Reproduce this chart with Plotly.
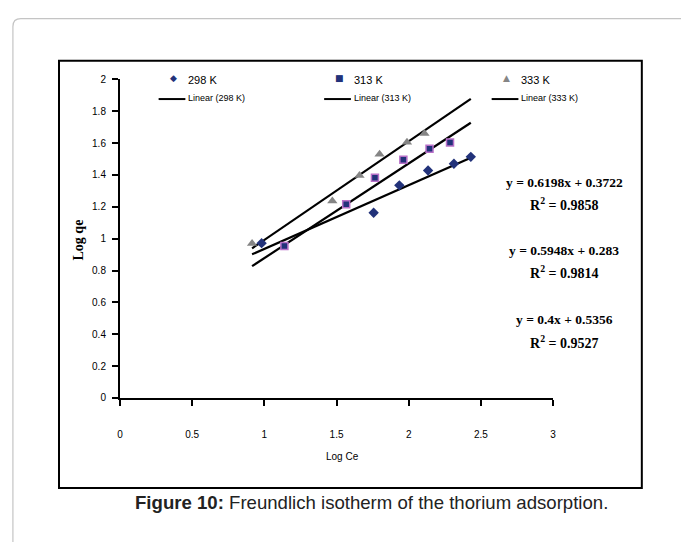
import plotly.graph_objects as go
import numpy as np

W, H = 681, 543

# ---- data ----
series_names = ["298 K", "313 K", "333 K"]
x_298 = [0.981, 1.757, 1.935, 2.134, 2.313, 2.430]
y_298 = [0.972, 1.163, 1.335, 1.428, 1.471, 1.514]
x_313 = [1.139, 1.567, 1.766, 1.963, 2.144, 2.286]
y_313 = [0.954, 1.216, 1.383, 1.495, 1.565, 1.604]
x_333 = [0.915, 1.471, 1.659, 1.798, 1.988, 2.109]
y_333 = [0.970, 1.237, 1.397, 1.530, 1.606, 1.661]

slopes = [0.4, 0.5948, 0.6198]
intercepts = [0.5356, 0.283, 0.3722]
fit_x_range = [0.915, 2.43]
equations = ["y = 0.6198x + 0.3722", "y = 0.5948x + 0.283", "y = 0.4x + 0.5356"]
r2_values = ["0.9858", "0.9814", "0.9527"]

x_ticks = [0, 0.5, 1, 1.5, 2, 2.5, 3]
y_ticks = [0, 0.2, 0.4, 0.6, 0.8, 1, 1.2, 1.4, 1.6, 1.8, 2]

# ---- layout geometry (pixels) ----
ax_l, ax_r = 118, 555
ax_t, ax_b = 76, 401

def px(x):
    return x / W

def py(y):
    return 1 - y / H

fig = go.Figure()

# fit lines
for s, b in zip(slopes, intercepts):
    xs = np.array(fit_x_range)
    fig.add_trace(go.Scatter(x=xs, y=s * xs + b, mode="lines",
                             line=dict(color="black", width=2.2),
                             showlegend=False, hoverinfo="skip"))

fig.add_trace(go.Scatter(x=x_298, y=y_298, mode="markers", name="298 K",
                         marker=dict(symbol="diamond", size=8, color="#22327a"),
                         showlegend=False))
fig.add_trace(go.Scatter(x=x_313, y=y_313, mode="markers", name="313 K",
                         marker=dict(symbol="square", size=7, color="#22327a",
                                     line=dict(color="#b870c8", width=1.5)),
                         showlegend=False))
fig.add_trace(go.Scatter(x=x_333, y=y_333, mode="markers", name="333 K",
                         marker=dict(symbol="triangle-up", size=9, color="#858585"),
                         showlegend=False))

shapes = []
# outer rounded panel
r = 8
shapes.append(dict(type="path", xref="paper", yref="paper",
                   path=f"M {px(10)} {py(H+5)} L {px(10)} {py(14+r)} Q {px(10)} {py(14)} {px(10+r)} {py(14)} L {px(W+5)} {py(14)}",
                   line=dict(color="#c4c4c4", width=1.2)))
# inner black box
shapes.append(dict(type="rect", xref="paper", yref="paper",
                   x0=px(56.5), x1=px(644.5), y0=py(493), y1=py(57),
                   line=dict(color="black", width=2)))

annotations = []
# legend
leg_x = [172, 339, 508]
leg_sym = ["◆", "■", "▲"]
leg_col = ["#22327a", "#22327a", "#858585"]
for lx, sym, col, nm in zip(leg_x, leg_sym, leg_col, series_names):
    annotations.append(dict(xref="paper", yref="paper", x=px(lx), y=py(74),
                            text=sym, showarrow=False, xanchor="center", yanchor="middle",
                            font=dict(size=9, color=col, family="DejaVu Sans")))
    annotations.append(dict(xref="paper", yref="paper", x=px(lx + 13), y=py(77),
                            text=nm, showarrow=False, xanchor="left", yanchor="middle",
                            font=dict(size=11, color="black", family="Liberation Sans")))
    shapes.append(dict(type="line", xref="paper", yref="paper",
                       x0=px(lx - 15), x1=px(lx + 12), y0=py(96), y1=py(96),
                       line=dict(color="black", width=2)))
    annotations.append(dict(xref="paper", yref="paper", x=px(lx + 13), y=py(95),
                            text=f"Linear ({nm})", showarrow=False, xanchor="left", yanchor="middle",
                            font=dict(size=9, color="black", family="Liberation Sans")))

# equations
eq_y = [(181, 203), (251, 273), (321, 344)]
for (y1, y2), eq, r2 in zip(eq_y, equations, r2_values):
    annotations.append(dict(xref="paper", yref="paper", x=px(566), y=py(y1),
                            text=f"<b>{eq}</b>", showarrow=False, xanchor="center", yanchor="middle",
                            font=dict(size=13.5, color="black", family="Liberation Serif")))
    annotations.append(dict(xref="paper", yref="paper", x=px(566), y=py(y2),
                            text=f"<b>R<sup>2</sup> = {r2}</b>", showarrow=False, xanchor="center", yanchor="middle",
                            font=dict(size=14, color="black", family="Liberation Serif")))

# axis titles
annotations.append(dict(xref="paper", yref="paper", x=px(76), y=py(240),
                        text="<b>Log qe</b>", showarrow=False, textangle=-90,
                        xanchor="center", yanchor="middle",
                        font=dict(size=14, color="black", family="Liberation Serif")))
annotations.append(dict(xref="paper", yref="paper", x=px(343), y=py(461),
                        text="Log Ce", showarrow=False, xanchor="center", yanchor="middle",
                        font=dict(size=10, color="black", family="Liberation Sans")))
# caption
annotations.append(dict(xref="paper", yref="paper", x=px(372), y=py(508),
                        text="<b>Figure 10:</b> Freundlich isotherm of the thorium adsorption.",
                        showarrow=False, xanchor="center", yanchor="middle",
                        font=dict(size=18.6, color="#222222", family="Liberation Sans")))

fig.update_layout(
    width=W, height=H, margin=dict(l=0, r=0, t=0, b=0),
    paper_bgcolor="white", plot_bgcolor="white",
    shapes=shapes, annotations=annotations,
    xaxis=dict(domain=[px(ax_l), px(ax_r)], range=[0, 3], tickvals=x_ticks,
               ticktext=[str(v) for v in x_ticks],
               showgrid=False, zeroline=False, showline=True, linecolor="black", linewidth=2,
               ticks="outside", ticklen=6, tickwidth=2, tickcolor="black",
               ticklabelstandoff=20,
               tickfont=dict(size=10, family="Liberation Sans", color="black")),
    yaxis=dict(domain=[py(ax_b), py(ax_t)], range=[0, 2], tickvals=y_ticks,
               ticktext=[f"{v:g}" for v in y_ticks],
               showgrid=False, zeroline=False, showline=True, linecolor="black", linewidth=2,
               ticks="outside", ticklen=6, tickwidth=2, tickcolor="black",
               ticklabelstandoff=4,
               tickfont=dict(size=10, family="Liberation Sans", color="black")),
)

fig.write_html("out.html")
